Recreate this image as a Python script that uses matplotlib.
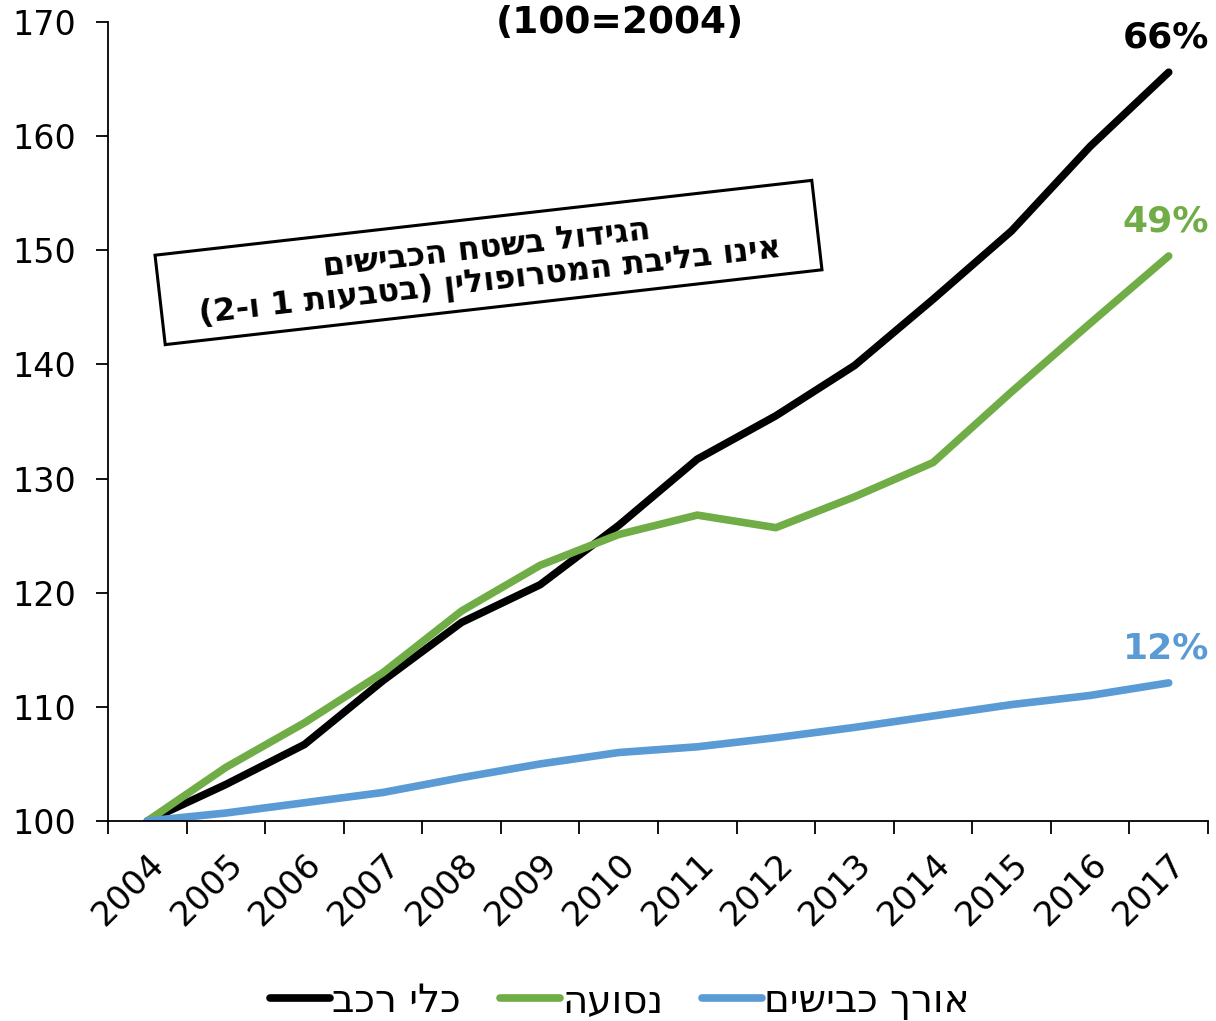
import matplotlib
matplotlib.use("Agg")
import matplotlib.pyplot as plt
from matplotlib.patches import Rectangle
from matplotlib.transforms import Affine2D
import numpy as np

# נתונים (2004=100)
years = ["2004", "2005", "2006", "2007", "2008", "2009", "2010",
         "2011", "2012", "2013", "2014", "2015", "2016", "2017"]
vehicles = [100, 103.2, 106.7, 112.3, 117.4, 120.7, 125.9,
            131.7, 135.5, 139.9, 145.7, 151.7, 159.1, 165.6]
mileage = [100, 104.7, 108.6, 113.0, 118.4, 122.4, 125.1,
           126.8, 125.7, 128.4, 131.4, 137.6, 143.6, 149.5]
road_length = [100, 100.7, 101.6, 102.5, 103.8, 105.0, 106.0,
               106.5, 107.3, 108.2, 109.2, 110.2, 111.0, 112.1]
growth_labels = ["66%", "49%", "12%"]

series_names = ["כלי רכב", "נסועה", "אורך כבישים"]
box_lines = ["הגידול בשטח הכבישים", "אינו בליבת המטרופולין (בטבעות 1 ו-2)"]
title_text = "(100=2004)"

colors = ["#000000", "#70AD47", "#5B9BD5"]

plt.rcParams['font.family'] = ['DejaVu Sans', 'Liberation Sans']


def rtl(s):
    # matplotlib has no bidi, so flip the string by hand
    out = s[::-1]
    return out.replace("(", "\0").replace(")", "(").replace("\0", ")")


fig = plt.figure(figsize=(12.16, 10.21), dpi=100)
ax = fig.add_axes([108 / 1216, 200 / 1021, 1100 / 1216, 799 / 1021])

x = np.arange(len(years))
all_series = [vehicles, mileage, road_length]
for vals, c, name in zip(all_series, colors, series_names):
    ax.plot(x, vals, color=c, lw=5.5, solid_capstyle='round', label=rtl(name))

ax.set_xlim(-0.5, len(years) - 0.5)
ax.set_ylim(100, 170)
ax.set_yticks(range(100, 171, 10))
ax.tick_params(axis='y', labelsize=24, length=9, width=1.3, direction='out', pad=14)

# ticks between the years, labels at the centres
ax.set_xticks(np.arange(-0.5, len(years), 1.0))
ax.set_xticklabels([])
ax.tick_params(axis='x', which='major', length=9, width=1.3, direction='out')
ax.set_xticks(x, minor=True)
ax.set_xticklabels(years, minor=True, rotation=45, ha='right', rotation_mode='anchor')
ax.tick_params(axis='x', which='minor', length=0, labelsize=24.5, pad=19)

for side in ['top', 'right']:
    ax.spines[side].set_visible(False)
for side in ['left', 'bottom']:
    ax.spines[side].set_linewidth(1.3)

# growth labels above line ends
for vals, c, lab in zip(all_series, colors, growth_labels):
    ax.annotate(lab, (x[-1], vals[-1]), xytext=(-2, 25), textcoords='offset points',
                ha='center', va='center', fontsize=26, fontweight='bold', color=c)

fig.text(620 / 1216, 1 - 23 / 1021, title_text, ha='center', va='center',
         fontsize=27, fontweight='bold')

# rotated box with note
angle = 6.5
cx, cy = 4.885, (1021 - 262.5) / 100
rect = Rectangle((-3.305, -0.45), 6.61, 0.90, facecolor='white', edgecolor='black', lw=2.2,
                 transform=Affine2D().rotate_deg(angle).translate(cx, cy) + fig.dpi_scale_trans)
fig.patches.append(rect)
fig.text(cx / 12.16, (cy - 0.03) / 10.21, "\n".join(rtl(t) for t in box_lines),
         ha='center', va='center', rotation=angle, rotation_mode='anchor',
         multialignment='center', fontsize=23, fontweight='bold', linespacing=1.08)

fig.legend(loc='center', bbox_to_anchor=(620 / 1216, 1 - 1001 / 1021), ncol=3,
           frameon=False, fontsize=28, handlelength=1.55, handletextpad=0.05,
           columnspacing=1.0)

fig.savefig("out.png", dpi=100)
